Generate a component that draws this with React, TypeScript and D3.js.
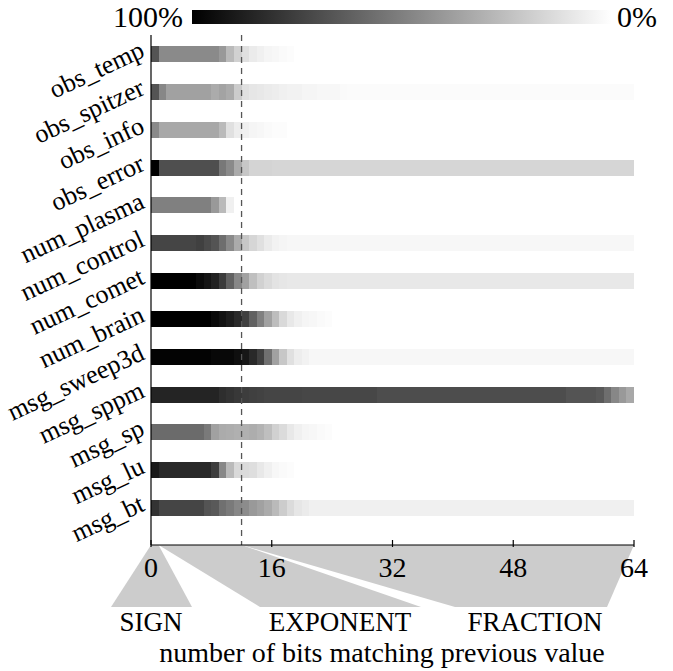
import React from "react";
import * as d3 from "d3";

// Datasets, top to bottom
const datasets = [
  "obs_temp", "obs_spitzer", "obs_info", "obs_error", "num_plasma", "num_control",
  "num_comet", "num_brain", "msg_sweep3d", "msg_sppm", "msg_sp", "msg_lu", "msg_bt",
];

// Percentage of values whose bit k (0 = sign bit) matches the previous value
const obsTemp = [67, 46, 46, 46, 46, 46, 46, 46, 46, 40, 27, 18, 12, 8, 6, 4, 3, 2, 1, 0, 0, 0, 0, 0, 0, 0, 0, 0, 0, 0, 0, 0, 0, 0, 0, 0, 0, 0, 0, 0, 0, 0, 0, 0, 0, 0, 0, 0, 0, 0, 0, 0, 0, 0, 0, 0, 0, 0, 0, 0, 0, 0, 0, 0];
const obsSpitzer = [67, 47, 37, 37, 37, 37, 37, 37, 33, 36, 33, 20, 12, 10, 9, 8, 7, 6, 5, 5, 4, 4, 3, 3, 3, 2, 1.5, 1.5, 1.5, 1.5, 1.5, 1.5, 1.5, 1.5, 1.5, 1.5, 1.5, 1.5, 1.5, 1.5, 1.5, 1.5, 1.5, 1.5, 1.5, 1.5, 1.5, 1.5, 1.5, 1.5, 1.5, 1.5, 1.5, 1.5, 1.5, 1.5, 1.5, 1.5, 1.5, 1.5, 1.5, 1.5, 1.5, 1.5];
const obsInfo = [46, 34, 34, 34, 34, 34, 34, 34, 34, 27, 12, 7, 6, 4, 3, 2, 1, 1, 0, 0, 0, 0, 0, 0, 0, 0, 0, 0, 0, 0, 0, 0, 0, 0, 0, 0, 0, 0, 0, 0, 0, 0, 0, 0, 0, 0, 0, 0, 0, 0, 0, 0, 0, 0, 0, 0, 0, 0, 0, 0, 0, 0, 0, 0];
const obsError = [100, 69, 69, 69, 69, 69, 69, 69, 69, 53, 46, 33, 22, 17, 17, 17, 16, 16, 16, 16, 16, 16, 16, 16, 16, 16, 16, 16, 16, 16, 16, 16, 16, 16, 16, 16, 16, 16, 16, 16, 16, 16, 16, 16, 16, 16, 16, 16, 16, 16, 16, 16, 16, 16, 16, 16, 16, 16, 16, 16, 16, 16, 16, 16];
const numPlasma = [50, 50, 50, 50, 50, 50, 50, 50, 40, 27, 6, 0, 0, 0, 0, 0, 0, 0, 0, 0, 0, 0, 0, 0, 0, 0, 0, 0, 0, 0, 0, 0, 0, 0, 0, 0, 0, 0, 0, 0, 0, 0, 0, 0, 0, 0, 0, 0, 0, 0, 0, 0, 0, 0, 0, 0, 0, 0, 0, 0, 0, 0, 0, 0];
const numControl = [73, 73, 73, 73, 73, 73, 75, 71, 67, 57, 46, 33, 22, 16, 12, 8, 5, 4, 3, 3, 3, 3, 3, 3, 3, 3, 3, 3, 3, 3, 3, 3, 3, 3, 3, 3, 3, 3, 3, 3, 3, 3, 3, 3, 3, 3, 3, 3, 3, 3, 3, 3, 3, 3, 3, 3, 3, 3, 3, 3, 3, 3, 3, 3];
const numComet = [100, 100, 100, 100, 100, 100, 96, 92, 87, 77, 62, 47, 37, 25, 18, 14, 11, 10, 9, 9, 9, 9, 9, 9, 9, 9, 9, 9, 9, 9, 9, 9, 9, 9, 9, 9, 9, 9, 9, 9, 9, 9, 9, 9, 9, 9, 9, 9, 9, 9, 9, 9, 9, 9, 9, 9, 9, 9, 9, 9, 9, 9, 9, 9];
const numBrain = [100, 100, 100, 100, 100, 100, 100, 100, 96, 93, 89, 84, 75, 62, 50, 37, 26, 15, 9, 6, 4, 3, 2, 1, 0, 0, 0, 0, 0, 0, 0, 0, 0, 0, 0, 0, 0, 0, 0, 0, 0, 0, 0, 0, 0, 0, 0, 0, 0, 0, 0, 0, 0, 0, 0, 0, 0, 0, 0, 0, 0, 0, 0, 0];
const msgSweep3d = [99, 99, 99, 99, 99, 99, 99, 99, 97, 97, 97, 94, 91, 84, 75, 56, 37, 22, 12, 7, 5, 3, 3, 3, 3, 3, 3, 3, 3, 3, 3, 3, 3, 3, 3, 3, 3, 3, 3, 3, 3, 3, 3, 3, 3, 3, 3, 3, 3, 3, 3, 3, 3, 3, 3, 3, 3, 3, 3, 3, 3, 3, 3, 3];
const msgSppm = [86, 86, 86, 86, 86, 86, 86, 86, 86, 82, 80, 78, 76, 75, 74, 73, 73, 73, 73, 73, 72, 72, 72, 72, 72, 72, 72, 72, 72, 72, 70, 70, 70, 70, 70, 70, 70, 70, 70, 70, 70, 70, 70, 70, 70, 70, 70, 70, 70, 70, 70, 70, 70, 70, 70, 67, 67, 67, 67, 65, 57, 47, 40, 34];
const msgSp = [58, 58, 58, 58, 58, 58, 58, 52, 37, 33, 32, 31, 31, 32, 30, 25, 18, 14, 9, 6, 4, 3, 2, 1, 0, 0, 0, 0, 0, 0, 0, 0, 0, 0, 0, 0, 0, 0, 0, 0, 0, 0, 0, 0, 0, 0, 0, 0, 0, 0, 0, 0, 0, 0, 0, 0, 0, 0, 0, 0, 0, 0, 0, 0];
const msgLu = [90, 84, 84, 84, 84, 84, 84, 84, 76, 47, 27, 15, 14, 13, 9, 6, 3, 2, 1, 0, 0, 0, 0, 0, 0, 0, 0, 0, 0, 0, 0, 0, 0, 0, 0, 0, 0, 0, 0, 0, 0, 0, 0, 0, 0, 0, 0, 0, 0, 0, 0, 0, 0, 0, 0, 0, 0, 0, 0, 0, 0, 0, 0, 0];
const msgBt = [80, 73, 73, 73, 73, 73, 73, 67, 65, 56, 52, 47, 45, 40, 37, 33, 27, 20, 14, 10, 8, 6, 6, 6, 6, 6, 6, 6, 6, 6, 6, 6, 6, 6, 6, 6, 6, 6, 6, 6, 6, 6, 6, 6, 6, 6, 6, 6, 6, 6, 6, 6, 6, 6, 6, 6, 6, 6, 6, 6, 6, 6, 6, 6];

const matchRates = [
  obsTemp, obsSpitzer, obsInfo, obsError, numPlasma, numControl,
  numComet, numBrain, msgSweep3d, msgSppm, msgSp, msgLu, msgBt,
];

const xTicks = [0, 16, 32, 48, 64];
const exponentEnd = 12; // sign bit + 11 exponent bits
const fields = ["SIGN", "EXPONENT", "FRACTION"];
const fieldBits = [[0, 1], [1, 12], [12, 64]];

const W = 673;
const H = 671;
const FONT = "'Liberation Serif', 'Times New Roman', Times, serif";

export default function App() {
  const x = d3.scaleLinear().domain([0, 64]).range([151, 634]);
  const y = d3.scalePoint<string>().domain(datasets).range([54, 508]);
  const color = d3.scaleLinear<string>().domain([0, 100]).range(["#ffffff", "#000000"]);
  const bandH = 16;
  const axisY = 545;
  const topY = 35;
  const fieldBottomY = 607;
  const fieldBottoms = [[111, 192], [260, 421], [455, 607]];
  const fieldLabelX = [151, 340, 535];

  return (
    <svg width={W} height={H} viewBox={`0 0 ${W} ${H}`} style={{ position: "absolute", left: 0, top: 0, background: "#fff" }}>
      <defs>
        <linearGradient id="cbar" x1="0" x2="1" y1="0" y2="0">
          <stop offset="0" stopColor={color(100)} />
          <stop offset="1" stopColor={color(0)} />
        </linearGradient>
      </defs>

      {/* colour bar */}
      <text x={183} y={27} fontFamily={FONT} fontSize={30} textAnchor="end">100%</text>
      <rect x={192} y={10} width={420} height={14} fill="url(#cbar)" />
      <text x={617} y={27} fontFamily={FONT} fontSize={30}>0%</text>

      {/* bit-match heat rows */}
      {matchRates.map((row, r) => (
        <g key={datasets[r]}>
          {row.map((v, k) => (
            <rect
              key={k}
              x={x(k)}
              y={(y(datasets[r]) as number) - bandH / 2}
              width={x(k + 1) - x(k)}
              height={bandH}
              fill={color(v)}
              shapeRendering="crispEdges"
            />
          ))}
        </g>
      ))}

      {/* row labels */}
      {datasets.map((d) => {
        const cy = y(d) as number;
        return (
          <text
            key={d}
            transform={`translate(146,${cy + 2}) rotate(-25)`}
            fontFamily={FONT}
            fontSize={26}
            textAnchor="end"
          >
            {d}
          </text>
        );
      })}

      {/* exponent / fraction boundary */}
      <line x1={x(exponentEnd)} x2={x(exponentEnd)} y1={topY} y2={axisY} stroke="#555" strokeWidth={1.3} strokeDasharray="6 5" />

      {/* IEEE-754 field wedges */}
      {fields.map((f, i) => {
        const [a, b] = fieldBits[i];
        const [bl, br] = fieldBottoms[i];
        const pts = [[x(a), axisY], [x(b), axisY], [br, fieldBottomY], [bl, fieldBottomY]];
        return <polygon key={f} points={pts.map((p) => p.join(",")).join(" ")} fill="#cccccc" />;
      })}

      {/* axes */}
      <line x1={x(0)} x2={x(0)} y1={topY} y2={axisY} stroke="#000" strokeWidth={1.2} />
      <line x1={x(0)} x2={x(64)} y1={axisY} y2={axisY} stroke="#000" strokeWidth={1.2} />
      {xTicks.map((t) => (
        <g key={t}>
          <line x1={x(t)} x2={x(t)} y1={axisY - 5} y2={axisY + 2} stroke="#000" strokeWidth={1.2} />
          <text x={x(t)} y={577} fontFamily={FONT} fontSize={28} textAnchor="middle">{t}</text>
        </g>
      ))}

      {fields.map((f, i) => (
        <text key={f} x={fieldLabelX[i]} y={631} fontFamily={FONT} fontSize={27} textAnchor="middle">{f}</text>
      ))}

      <text x={382} y={662} fontFamily={FONT} fontSize={28} textAnchor="middle">number of bits matching previous value</text>
    </svg>
  );
}
